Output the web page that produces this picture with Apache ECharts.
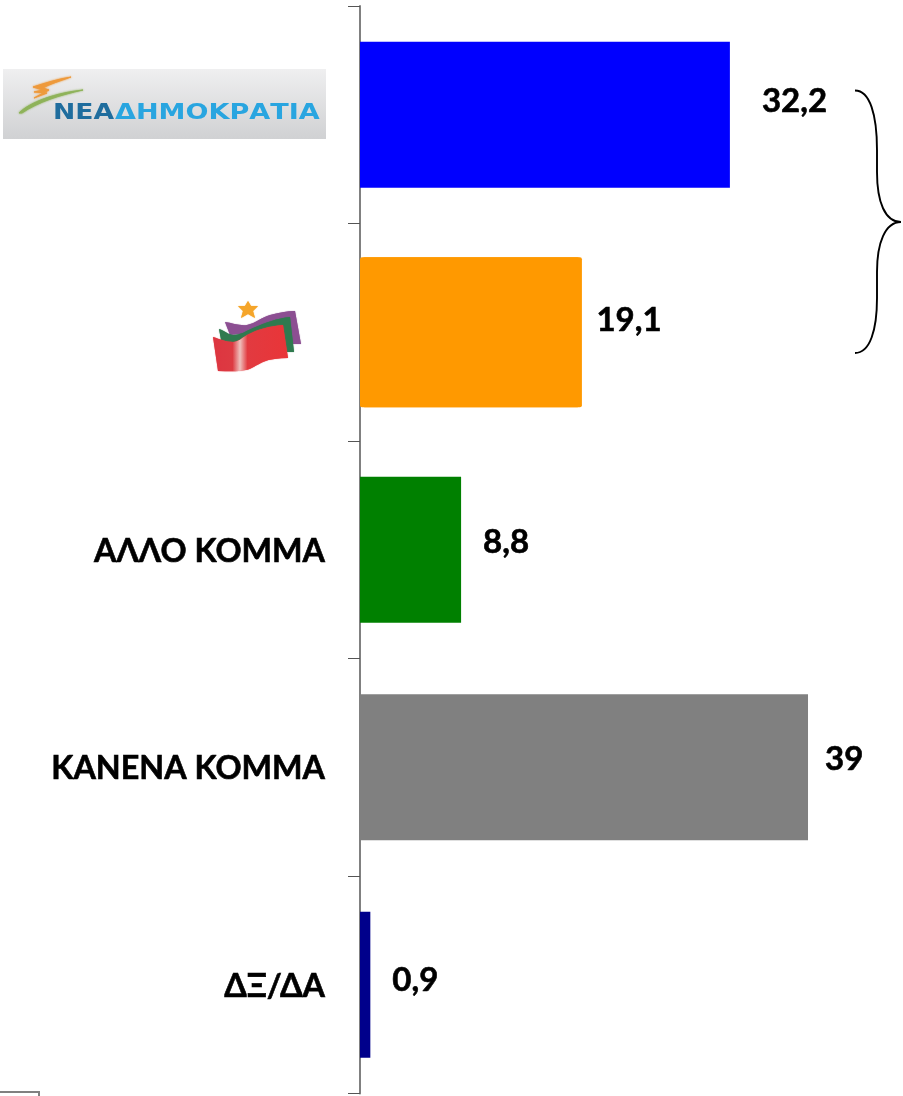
<!DOCTYPE html>
<html>
<head>
<meta charset="utf-8">
<style>html,body{margin:0;padding:0;background:#fff}#c{width:903px;height:1096px}</style>
<script src="https://cdn.jsdelivr.net/npm/echarts@6/dist/echarts.min.js"></script>
</head>
<body>
<div id="c"></div>
<script>
const categories = ['ΝΕΑ ΔΗΜΟΚΡΑΤΙΑ', 'ΣΥΡΙΖΑ', 'ΑΛΛΟ ΚΟΜΜΑ', 'ΚΑΝΕΝΑ ΚΟΜΜΑ', 'ΔΞ/ΔΑ'];
const values = [32.2, 19.1, 8.8, 39, 0.9];
const barColors = ['#0000ff', '#ff9900', '#008000', '#808080', '#00008b'];
const logoCategories = ['ΝΕΑ ΔΗΜΟΚΡΑΤΙΑ', 'ΣΥΡΙΖΑ'];
const outlinedCategory = 'ΣΥΡΙΖΑ';
const labelShift = [[32, -13], [17, -12], [22, -7], [17, -8], [22, -4]];
const font = 'Lato, "Open Sans", sans-serif';

function deco(name, d, style) {
  echarts.graphic.registerShape(name, echarts.graphic.extendPath(d, {}));
  return {type: name, silent: true, style: style};
}
function barData(keep) {
  return values.map((v, i) => keep(categories[i]) ? {
    value: v,
    itemStyle: {color: barColors[i]},
    label: {offset: labelShift[i]}
  } : '-');
}
const valueLabel = {
  show: true, position: 'right', distance: 0, color: '#000',
  fontFamily: font, fontWeight: 'bold', fontSize: 33,
  textBorderColor: '#000', textBorderWidth: 0.6,
  formatter: p => String(p.value).replace('.', ',')
};

const chart = echarts.init(document.getElementById('c'), null, {renderer: 'canvas'});
chart.setOption({
  animation: false,
  backgroundColor: '#fff',
  grid: {left: 360, top: 5.9, width: 459.5, height: 1087.5},
  xAxis: {type: 'value', min: 0, max: 40, show: false},
  yAxis: [{
    type: 'category', inverse: true, data: categories,
    axisLine: {lineStyle: {color: '#808080', width: 2}},
    axisTick: {show: true, length: 12, alignWithLabel: false, lineStyle: {color: '#555', width: 1}},
    axisLabel: {
      margin: 35, color: '#000', fontFamily: font, fontWeight: 'bold', fontSize: 32.3,
      textBorderColor: '#000', textBorderWidth: 0.6, verticalAlign: 'top', lineHeight: 3,
      formatter: v => logoCategories.includes(v) ? '' : v
    }
  }, {
    type: 'category', inverse: true, data: categories, position: 'left', show: false
  }],
  series: [
    {type: 'bar', barWidth: 146, yAxisIndex: 0, z: 1,
      data: barData(c => c !== outlinedCategory), label: valueLabel},
    {type: 'bar', barWidth: 150, yAxisIndex: 1, z: 1,
      itemStyle: {borderRadius: 2, shadowColor: barColors[1], shadowBlur: 0, shadowOffsetX: 2.5},
      data: barData(c => c === outlinedCategory), label: valueLabel}
  ],
  graphic: [
    deco('brace', 'M855 90.5 C870 90.5 877 115 877 150 L877 172 C877 202 885 222 901 222 C885 222 877 243 877 272 L877 298 C877 330 870 353 855 353',
      {fill: null, stroke: '#000', lineWidth: 1.9}),
    {type: 'rect', silent: true, shape: {x: -2, y: 1092, width: 41, height: 10}, style: {fill: '#fff', stroke: '#808080', lineWidth: 2}},
    {type: 'rect', silent: true, shape: {x: 3, y: 69, width: 323, height: 70},
      style: {fill: new echarts.graphic.LinearGradient(0, 0, 0, 1, [{offset: 0, color: '#efeff0'}, {offset: 1, color: '#d0d1d3'}])}},
    deco('ndGreen', 'M19 113 C30 102 55 93 83 90 C60 95 38 102 22 113 Z',
      {fill: '#8fb35a', stroke: '#8fb35a', lineWidth: 1, shadowBlur: 2, shadowColor: '#8fb35a'}),
    deco('ndOrange', 'M33 87 C45 83 58 79 71 77 C60 81 50 84 43 88 L49 90 L34 98 L47 93 L34 92 L43 90 Z',
      {fill: '#ee9a3c', stroke: '#ee9a3c', lineWidth: 1, shadowBlur: 2, shadowColor: '#ee9a3c'}),
    {type: 'text', silent: true, x: 53, y: 114, scaleX: 1.3, style: {text: 'ΝΕΑ', fill: '#1f6d9e', font: 'bold 20.5px "DejaVu Sans", sans-serif', verticalAlign: 'middle', shadowBlur: 2, shadowColor: '#1f6d9e'}},
    {type: 'text', silent: true, x: 115, y: 114, scaleX: 1.32, style: {text: 'ΔΗΜΟΚΡΑΤΙΑ', fill: '#29a5e0', font: 'bold 20.5px "DejaVu Sans", sans-serif', verticalAlign: 'middle', shadowBlur: 2, shadowColor: '#29a5e0'}},
    deco('flagPurple', 'M225 322 C232 323 240 326 247 325 C256 323 262 317 270 315 C278 313 287 311 295 311 L301 344 L285 344 L278 330 L230 335 Z',
      {fill: '#8c4f92', shadowBlur: 1, shadowColor: '#8c4f92'}),
    deco('flagGreen', 'M219 329 C225 331 229 335 233 335 C241 335 246 331 253 328 C265 323 278 318 290 317 L294 352 L262 352 L222 345 Z',
      {fill: '#2f7a4f', shadowBlur: 1, shadowColor: '#2f7a4f'}),
    deco('flagRed', 'M213 337 C220 339 226 342 233 342 C238 342 242 338 247 335 C258 329 270 326 283 325 L288 358 C279 358 270 359 263 362 C256 365 252 369 246 370 C236 372 228 371 218 371 Z',
      {fill: new echarts.graphic.LinearGradient(0, 0, 1, 0, [
        {offset: 0, color: '#dd3540'}, {offset: 0.26, color: '#dd3a42'}, {offset: 0.36, color: '#efc0bd'},
        {offset: 0.46, color: '#e23a40'}, {offset: 1, color: '#e93538'}]), shadowBlur: 1, shadowColor: '#e23a40'}),
    deco('flagStar', 'M248 301 L251 306 L258 306 L253 311 L255 318 L248 314 L241 318 L243 311 L238 306 L245 306 Z',
      {fill: '#f5a52a', shadowBlur: 1, shadowColor: '#f5a52a'})
  ]
});
</script>
</body>
</html>
